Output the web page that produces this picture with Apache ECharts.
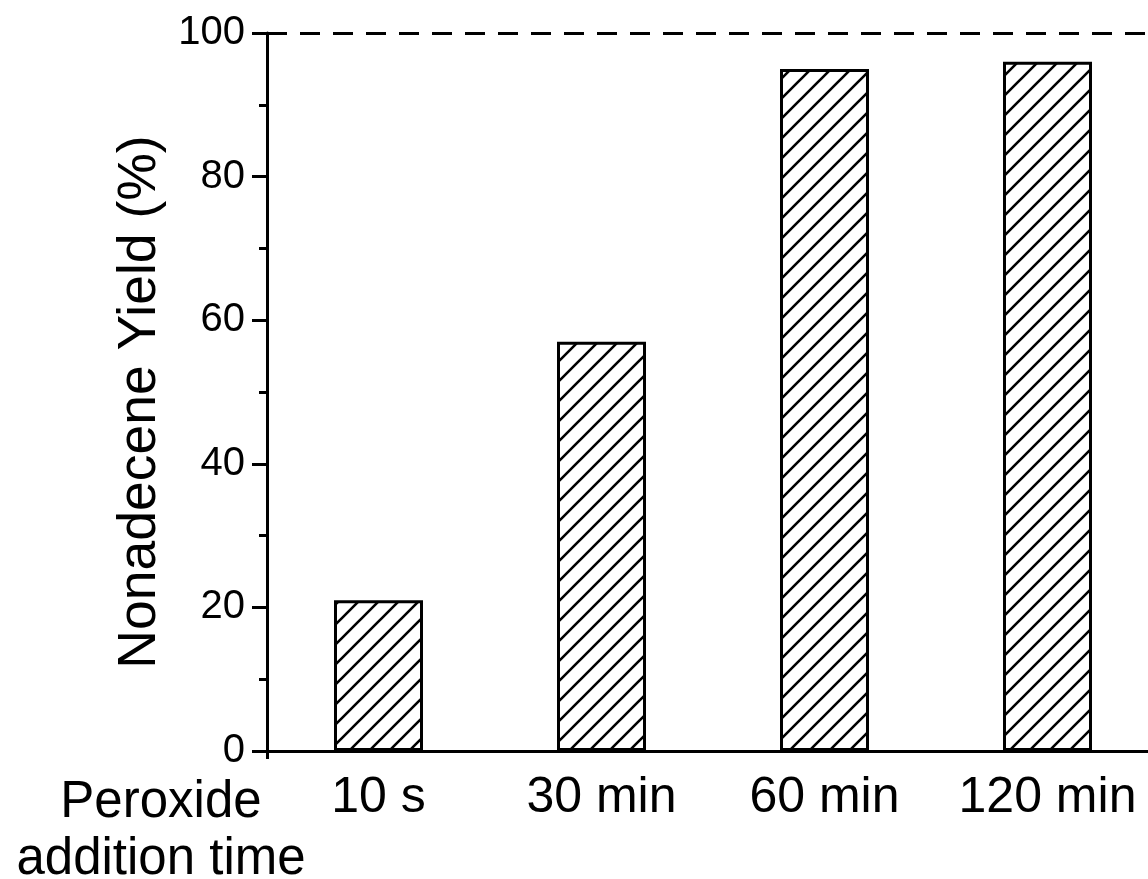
<!DOCTYPE html>
<html><head><meta charset="utf-8">
<script src="https://cdn.jsdelivr.net/npm/echarts@6/dist/echarts.min.js"></script>
<style>html,body{margin:0;padding:0;background:#fff}#c{width:1148px;height:879px}</style>
</head><body><div id="c"></div>
<script>
const categories = ['10 s', '30 min', '60 min', '120 min'];
const yieldValues = [21, 57, 95, 96];
const referenceLevel = 100;
const yTicks = [0, 20, 40, 60, 80, 100];

const FONT = '"Liberation Sans", Arial, sans-serif';

// hatch pattern "/"
const tile = document.createElement('canvas');
tile.width = 20; tile.height = 20;
const g = tile.getContext('2d');
g.fillStyle = '#fff'; g.fillRect(0, 0, 20, 20);
g.strokeStyle = '#000'; g.lineWidth = 2.6;
g.beginPath();
g.moveTo(-10, 10); g.lineTo(10, -10);
g.moveTo(0, 20); g.lineTo(20, 0);
g.moveTo(10, 30); g.lineTo(30, 10);
g.stroke();

const chart = echarts.init(document.getElementById('c'), null, {renderer: 'canvas'});
chart.setOption({
  animation: false,
  backgroundColor: '#fff',
  grid: {left: 267, top: 33, right: -11, bottom: 128, containLabel: false, outerBoundsMode: 'none'},
  xAxis: {
    type: 'category',
    data: categories,
    boundaryGap: true,
    axisLine: {lineStyle: {color: '#000', width: 3}},
    axisTick: {show: true, length: 8, lineStyle: {color: '#000', width: 3},
               interval: function (i) { return i === 0; }},
    axisLabel: {color: '#000', fontFamily: FONT, fontSize: 50, margin: 22, interval: 0},
    splitLine: {show: false}
  },
  yAxis: {
    type: 'value',
    min: yTicks[0], max: yTicks[yTicks.length - 1], interval: 20,
    name: 'Nonadecene Yield (%)',
    nameLocation: 'middle',
    nameGap: 92,
    nameTextStyle: {color: '#000', fontFamily: FONT, fontSize: 53.5, padding: [0, 20, 0, 0]},
    axisLine: {show: true, lineStyle: {color: '#000', width: 3}},
    axisTick: {show: true, length: 15, lineStyle: {color: '#000', width: 3}},
    minorTick: {show: true, splitNumber: 2, length: 8, lineStyle: {color: '#000', width: 3}},
    axisLabel: {color: '#000', fontFamily: FONT, fontSize: 40, margin: 22},
    splitLine: {show: false}
  },
  graphic: [{
    type: 'text',
    x: 161, y: 774,
    style: {
      text: 'Peroxide\naddition time',
      fontFamily: FONT, fontSize: 51, fill: '#000',
      align: 'center', verticalAlign: 'top', lineHeight: 57
    }
  }],
  series: [{
    type: 'bar',
    data: yieldValues,
    barWidth: 89,
    itemStyle: {
      color: {image: tile, repeat: 'repeat'},
      borderColor: '#000', borderWidth: 3
    },
    markLine: {
      silent: true,
      symbol: 'none',
      label: {show: false},
      lineStyle: {color: '#000', width: 3, type: [20, 13]},
      data: [{yAxis: referenceLevel}]
    }
  }]
});
</script></body></html>
